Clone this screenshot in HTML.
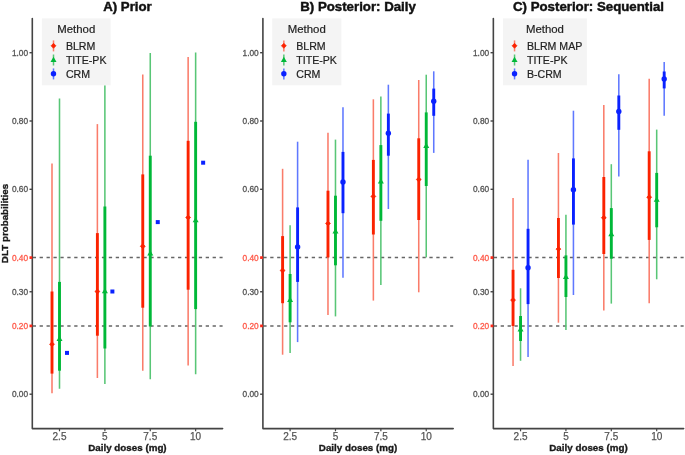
<!DOCTYPE html>
<html><head><meta charset="utf-8"><title>DLT probabilities</title>
<style>
html,body{margin:0;padding:0;background:#fff;}
body{width:685px;height:455px;overflow:hidden;}
svg{display:block;will-change:transform;font-family:"Liberation Sans",sans-serif;}
.ttl{font-size:13.25px;font-weight:bold;fill:#111;stroke:#111;stroke-width:0.45px;}
.yl{font-size:8.3px;stroke-width:0.3px;}
.xl{font-size:10px;fill:#555555;stroke:#555555;stroke-width:0.25px;}
.xt{font-size:9.8px;font-weight:bold;fill:#1a1a1a;stroke:#1a1a1a;stroke-width:0.35px;}
.lt{font-size:11.4px;fill:#222;stroke:#222;stroke-width:0.2px;}
.li{font-size:10.6px;fill:#222;stroke:#222;stroke-width:0.2px;}
</style></head>
<body>
<svg width="685" height="455" viewBox="0 0 685 455">
<rect width="685" height="455" fill="#fff"/>
<g>
<text x="127.45" y="11.1" text-anchor="middle" class="ttl">A) Prior</text>
<line x1="32.70" y1="257.60" x2="222.60" y2="257.60" stroke="#666" stroke-width="1.5" stroke-dasharray="3.3 3.62"/>
<line x1="32.70" y1="325.90" x2="222.60" y2="325.90" stroke="#666" stroke-width="1.5" stroke-dasharray="3.3 3.62"/>
<line x1="52.00" y1="163.60" x2="52.00" y2="393.20" stroke="#fa7c6a" stroke-width="1.55"/><line x1="52.00" y1="291.50" x2="52.00" y2="373.60" stroke="#fb2200" stroke-width="2.9"/><path d="M52.00 341.75L54.45 344.20L52.00 346.65L49.55 344.20Z" fill="#fb2200" stroke="#fb2200" stroke-width="0.7" stroke-linejoin="round"/>
<line x1="59.50" y1="98.40" x2="59.50" y2="388.80" stroke="#58c676" stroke-width="1.55"/><line x1="59.50" y1="281.90" x2="59.50" y2="370.70" stroke="#00b838" stroke-width="2.9"/><path d="M59.50 335.74L62.50 340.93L56.50 340.93Z" fill="#00b838"/>
<rect x="65.00" y="350.90" width="4.00" height="4.00" fill="#0a22ff"/>
<line x1="97.38" y1="124.10" x2="97.38" y2="378.00" stroke="#fa7c6a" stroke-width="1.55"/><line x1="97.38" y1="233.10" x2="97.38" y2="335.70" stroke="#fb2200" stroke-width="2.9"/><path d="M97.38 289.05L99.83 291.50L97.38 293.95L94.93 291.50Z" fill="#fb2200" stroke="#fb2200" stroke-width="0.7" stroke-linejoin="round"/>
<line x1="104.88" y1="85.30" x2="104.88" y2="383.90" stroke="#58c676" stroke-width="1.55"/><line x1="104.88" y1="206.50" x2="104.88" y2="348.50" stroke="#00b838" stroke-width="2.9"/><path d="M104.88 288.04L107.88 293.23L101.88 293.23Z" fill="#00b838"/>
<rect x="110.38" y="289.50" width="4.00" height="4.00" fill="#0a22ff"/>
<line x1="142.76" y1="74.50" x2="142.76" y2="370.70" stroke="#fa7c6a" stroke-width="1.55"/><line x1="142.76" y1="174.40" x2="142.76" y2="307.70" stroke="#fb2200" stroke-width="2.9"/><path d="M142.76 243.85L145.21 246.30L142.76 248.75L140.31 246.30Z" fill="#fb2200" stroke="#fb2200" stroke-width="0.7" stroke-linejoin="round"/>
<line x1="150.26" y1="53.10" x2="150.26" y2="379.20" stroke="#58c676" stroke-width="1.55"/><line x1="150.26" y1="155.70" x2="150.26" y2="326.50" stroke="#00b838" stroke-width="2.9"/><path d="M150.26 250.24L153.26 255.43L147.26 255.43Z" fill="#00b838"/>
<rect x="155.76" y="220.10" width="4.00" height="4.00" fill="#0a22ff"/>
<line x1="188.14" y1="57.00" x2="188.14" y2="365.50" stroke="#fa7c6a" stroke-width="1.55"/><line x1="188.14" y1="140.80" x2="188.14" y2="289.70" stroke="#fb2200" stroke-width="2.9"/><path d="M188.14 215.05L190.59 217.50L188.14 219.95L185.69 217.50Z" fill="#fb2200" stroke="#fb2200" stroke-width="0.7" stroke-linejoin="round"/>
<line x1="195.64" y1="52.60" x2="195.64" y2="374.20" stroke="#58c676" stroke-width="1.55"/><line x1="195.64" y1="121.80" x2="195.64" y2="309.10" stroke="#00b838" stroke-width="2.9"/><path d="M195.64 217.14L198.64 222.33L192.64 222.33Z" fill="#00b838"/>
<rect x="201.14" y="160.70" width="4.00" height="4.00" fill="#0a22ff"/>
<path d="M32.30 18.60V428.60H222.60" fill="none" stroke="#444444" stroke-width="1.6" stroke-linejoin="round" stroke-linecap="round"/>
<line x1="29.50" y1="394.20" x2="32.30" y2="394.20" stroke="#444444" stroke-width="1.4"/>
<text x="28.10" y="397.25" text-anchor="end" class="yl" fill="#555555" stroke="#555555">0.00</text>
<line x1="29.50" y1="325.90" x2="32.30" y2="325.90" stroke="#ff2a1a" stroke-width="2.7"/>
<text x="28.10" y="328.95" text-anchor="end" class="yl" fill="#ff5a4a" stroke="#ff5a4a">0.20</text>
<line x1="29.50" y1="291.75" x2="32.30" y2="291.75" stroke="#444444" stroke-width="1.4"/>
<text x="28.10" y="294.80" text-anchor="end" class="yl" fill="#555555" stroke="#555555">0.30</text>
<line x1="29.50" y1="257.60" x2="32.30" y2="257.60" stroke="#ff2a1a" stroke-width="2.7"/>
<text x="28.10" y="260.65" text-anchor="end" class="yl" fill="#ff5a4a" stroke="#ff5a4a">0.40</text>
<line x1="29.50" y1="189.30" x2="32.30" y2="189.30" stroke="#444444" stroke-width="1.4"/>
<text x="28.10" y="192.35" text-anchor="end" class="yl" fill="#555555" stroke="#555555">0.60</text>
<line x1="29.50" y1="121.00" x2="32.30" y2="121.00" stroke="#444444" stroke-width="1.4"/>
<text x="28.10" y="124.05" text-anchor="end" class="yl" fill="#555555" stroke="#555555">0.80</text>
<line x1="29.50" y1="52.70" x2="32.30" y2="52.70" stroke="#444444" stroke-width="1.4"/>
<text x="28.10" y="55.75" text-anchor="end" class="yl" fill="#555555" stroke="#555555">1.00</text>
<line x1="59.50" y1="428.60" x2="59.50" y2="431.30" stroke="#444444" stroke-width="1.2"/>
<text x="59.50" y="439.8" text-anchor="middle" class="xl">2.5</text>
<line x1="104.88" y1="428.60" x2="104.88" y2="431.30" stroke="#444444" stroke-width="1.2"/>
<text x="104.88" y="439.8" text-anchor="middle" class="xl">5</text>
<line x1="150.26" y1="428.60" x2="150.26" y2="431.30" stroke="#444444" stroke-width="1.2"/>
<text x="150.26" y="439.8" text-anchor="middle" class="xl">7.5</text>
<line x1="195.64" y1="428.60" x2="195.64" y2="431.30" stroke="#444444" stroke-width="1.2"/>
<text x="195.64" y="439.8" text-anchor="middle" class="xl">10</text>
<text x="127.45" y="451.2" text-anchor="middle" class="xt">Daily doses (mg)</text>
<rect x="41.90" y="18.4" width="68.70" height="66.9" fill="#f4f4f4"/>
<text x="76.25" y="32.5" text-anchor="middle" class="lt">Method</text>
<line x1="53.50" y1="40.40" x2="53.50" y2="51.40" stroke="#fa7c6a" stroke-width="1.5"/><path d="M53.50 43.35L55.95 45.80L53.50 48.25L51.05 45.80Z" fill="#fb2200" stroke="#fb2200" stroke-width="0.7" stroke-linejoin="round"/>
<line x1="53.50" y1="54.50" x2="53.50" y2="65.50" stroke="#58c676" stroke-width="1.5"/><path d="M53.50 56.74L56.50 61.93L50.50 61.93Z" fill="#00b838"/>
<line x1="53.50" y1="68.40" x2="53.50" y2="79.40" stroke="#5f78ff" stroke-width="1.5"/><circle cx="53.50" cy="73.80" r="2.70" fill="#0a22ff"/>
<text x="65.90" y="50.10" class="li">BLRM</text>
<text x="65.90" y="64.15" class="li">TITE-PK</text>
<text x="65.90" y="78.20" class="li">CRM</text>
<text x="358.05" y="11.1" text-anchor="middle" class="ttl">B) Posterior: Daily</text>
<line x1="263.30" y1="257.60" x2="453.20" y2="257.60" stroke="#666" stroke-width="1.5" stroke-dasharray="3.3 3.62"/>
<line x1="263.30" y1="325.90" x2="453.20" y2="325.90" stroke="#666" stroke-width="1.5" stroke-dasharray="3.3 3.62"/>
<line x1="282.60" y1="168.80" x2="282.60" y2="354.70" stroke="#fa7c6a" stroke-width="1.55"/><line x1="282.60" y1="236.10" x2="282.60" y2="303.20" stroke="#fb2200" stroke-width="2.9"/><path d="M282.60 268.05L285.05 270.50L282.60 272.95L280.15 270.50Z" fill="#fb2200" stroke="#fb2200" stroke-width="0.7" stroke-linejoin="round"/>
<line x1="290.10" y1="225.30" x2="290.10" y2="352.90" stroke="#58c676" stroke-width="1.55"/><line x1="290.10" y1="274.00" x2="290.10" y2="322.30" stroke="#00b838" stroke-width="2.9"/><path d="M290.10 296.84L293.10 302.03L287.10 302.03Z" fill="#00b838"/>
<line x1="297.60" y1="141.70" x2="297.60" y2="342.10" stroke="#5f78ff" stroke-width="1.55"/><line x1="297.60" y1="207.40" x2="297.60" y2="281.90" stroke="#0a22ff" stroke-width="2.9"/><circle cx="297.60" cy="246.90" r="2.70" fill="#0a22ff"/>
<line x1="327.98" y1="132.80" x2="327.98" y2="315.00" stroke="#fa7c6a" stroke-width="1.55"/><line x1="327.98" y1="190.70" x2="327.98" y2="257.40" stroke="#fb2200" stroke-width="2.9"/><path d="M327.98 220.95L330.43 223.40L327.98 225.85L325.53 223.40Z" fill="#fb2200" stroke="#fb2200" stroke-width="0.7" stroke-linejoin="round"/>
<line x1="335.48" y1="139.60" x2="335.48" y2="316.40" stroke="#58c676" stroke-width="1.55"/><line x1="335.48" y1="195.70" x2="335.48" y2="265.30" stroke="#00b838" stroke-width="2.9"/><path d="M335.48 228.24L338.48 233.43L332.48 233.43Z" fill="#00b838"/>
<line x1="342.98" y1="107.20" x2="342.98" y2="277.80" stroke="#5f78ff" stroke-width="1.55"/><line x1="342.98" y1="151.90" x2="342.98" y2="213.20" stroke="#0a22ff" stroke-width="2.9"/><circle cx="342.98" cy="182.00" r="2.70" fill="#0a22ff"/>
<line x1="373.36" y1="99.30" x2="373.36" y2="300.60" stroke="#fa7c6a" stroke-width="1.55"/><line x1="373.36" y1="159.90" x2="373.36" y2="234.50" stroke="#fb2200" stroke-width="2.9"/><path d="M373.36 193.95L375.81 196.40L373.36 198.85L370.91 196.40Z" fill="#fb2200" stroke="#fb2200" stroke-width="0.7" stroke-linejoin="round"/>
<line x1="380.86" y1="96.40" x2="380.86" y2="285.00" stroke="#58c676" stroke-width="1.55"/><line x1="380.86" y1="145.10" x2="380.86" y2="220.80" stroke="#00b838" stroke-width="2.9"/><path d="M380.86 178.24L383.86 183.43L377.86 183.43Z" fill="#00b838"/>
<line x1="388.36" y1="84.70" x2="388.36" y2="209.00" stroke="#5f78ff" stroke-width="1.55"/><line x1="388.36" y1="113.60" x2="388.36" y2="155.70" stroke="#0a22ff" stroke-width="2.9"/><circle cx="388.36" cy="133.30" r="2.70" fill="#0a22ff"/>
<line x1="418.74" y1="80.00" x2="418.74" y2="292.30" stroke="#fa7c6a" stroke-width="1.55"/><line x1="418.74" y1="138.30" x2="418.74" y2="220.00" stroke="#fb2200" stroke-width="2.9"/><path d="M418.74 177.05L421.19 179.50L418.74 181.95L416.29 179.50Z" fill="#fb2200" stroke="#fb2200" stroke-width="0.7" stroke-linejoin="round"/>
<line x1="426.24" y1="74.70" x2="426.24" y2="257.40" stroke="#58c676" stroke-width="1.55"/><line x1="426.24" y1="112.40" x2="426.24" y2="186.00" stroke="#00b838" stroke-width="2.9"/><path d="M426.24 142.74L429.24 147.93L423.24 147.93Z" fill="#00b838"/>
<line x1="433.74" y1="71.30" x2="433.74" y2="152.90" stroke="#5f78ff" stroke-width="1.55"/><line x1="433.74" y1="88.60" x2="433.74" y2="115.80" stroke="#0a22ff" stroke-width="2.9"/><circle cx="433.74" cy="101.20" r="2.70" fill="#0a22ff"/>
<path d="M262.90 18.60V428.60H453.20" fill="none" stroke="#444444" stroke-width="1.6" stroke-linejoin="round" stroke-linecap="round"/>
<line x1="260.10" y1="394.20" x2="262.90" y2="394.20" stroke="#444444" stroke-width="1.4"/>
<text x="258.70" y="397.25" text-anchor="end" class="yl" fill="#555555" stroke="#555555">0.00</text>
<line x1="260.10" y1="325.90" x2="262.90" y2="325.90" stroke="#ff2a1a" stroke-width="2.7"/>
<text x="258.70" y="328.95" text-anchor="end" class="yl" fill="#ff5a4a" stroke="#ff5a4a">0.20</text>
<line x1="260.10" y1="291.75" x2="262.90" y2="291.75" stroke="#444444" stroke-width="1.4"/>
<text x="258.70" y="294.80" text-anchor="end" class="yl" fill="#555555" stroke="#555555">0.30</text>
<line x1="260.10" y1="257.60" x2="262.90" y2="257.60" stroke="#ff2a1a" stroke-width="2.7"/>
<text x="258.70" y="260.65" text-anchor="end" class="yl" fill="#ff5a4a" stroke="#ff5a4a">0.40</text>
<line x1="260.10" y1="189.30" x2="262.90" y2="189.30" stroke="#444444" stroke-width="1.4"/>
<text x="258.70" y="192.35" text-anchor="end" class="yl" fill="#555555" stroke="#555555">0.60</text>
<line x1="260.10" y1="121.00" x2="262.90" y2="121.00" stroke="#444444" stroke-width="1.4"/>
<text x="258.70" y="124.05" text-anchor="end" class="yl" fill="#555555" stroke="#555555">0.80</text>
<line x1="260.10" y1="52.70" x2="262.90" y2="52.70" stroke="#444444" stroke-width="1.4"/>
<text x="258.70" y="55.75" text-anchor="end" class="yl" fill="#555555" stroke="#555555">1.00</text>
<line x1="290.10" y1="428.60" x2="290.10" y2="431.30" stroke="#444444" stroke-width="1.2"/>
<text x="290.10" y="439.8" text-anchor="middle" class="xl">2.5</text>
<line x1="335.48" y1="428.60" x2="335.48" y2="431.30" stroke="#444444" stroke-width="1.2"/>
<text x="335.48" y="439.8" text-anchor="middle" class="xl">5</text>
<line x1="380.86" y1="428.60" x2="380.86" y2="431.30" stroke="#444444" stroke-width="1.2"/>
<text x="380.86" y="439.8" text-anchor="middle" class="xl">7.5</text>
<line x1="426.24" y1="428.60" x2="426.24" y2="431.30" stroke="#444444" stroke-width="1.2"/>
<text x="426.24" y="439.8" text-anchor="middle" class="xl">10</text>
<text x="358.05" y="451.2" text-anchor="middle" class="xt">Daily doses (mg)</text>
<rect x="272.25" y="18.4" width="69.10" height="66.9" fill="#f4f4f4"/>
<text x="306.80" y="32.5" text-anchor="middle" class="lt">Method</text>
<line x1="283.85" y1="40.40" x2="283.85" y2="51.40" stroke="#fa7c6a" stroke-width="1.5"/><path d="M283.85 43.35L286.30 45.80L283.85 48.25L281.40 45.80Z" fill="#fb2200" stroke="#fb2200" stroke-width="0.7" stroke-linejoin="round"/>
<line x1="283.85" y1="54.50" x2="283.85" y2="65.50" stroke="#58c676" stroke-width="1.5"/><path d="M283.85 56.74L286.85 61.93L280.85 61.93Z" fill="#00b838"/>
<line x1="283.85" y1="68.40" x2="283.85" y2="79.40" stroke="#5f78ff" stroke-width="1.5"/><circle cx="283.85" cy="73.80" r="2.70" fill="#0a22ff"/>
<text x="296.25" y="50.10" class="li">BLRM</text>
<text x="296.25" y="64.15" class="li">TITE-PK</text>
<text x="296.25" y="78.20" class="li">CRM</text>
<text x="588.50" y="11.1" text-anchor="middle" class="ttl">C) Posterior: Sequential</text>
<line x1="493.75" y1="257.60" x2="683.65" y2="257.60" stroke="#666" stroke-width="1.5" stroke-dasharray="3.3 3.62"/>
<line x1="493.75" y1="325.90" x2="683.65" y2="325.90" stroke="#666" stroke-width="1.5" stroke-dasharray="3.3 3.62"/>
<line x1="513.05" y1="198.00" x2="513.05" y2="366.00" stroke="#fa7c6a" stroke-width="1.55"/><line x1="513.05" y1="269.80" x2="513.05" y2="326.00" stroke="#fb2200" stroke-width="2.9"/><path d="M513.05 297.65L515.50 300.10L513.05 302.55L510.60 300.10Z" fill="#fb2200" stroke="#fb2200" stroke-width="0.7" stroke-linejoin="round"/>
<line x1="520.55" y1="288.30" x2="520.55" y2="360.80" stroke="#58c676" stroke-width="1.55"/><line x1="520.55" y1="316.00" x2="520.55" y2="341.00" stroke="#00b838" stroke-width="2.9"/><path d="M520.55 326.24L523.55 331.43L517.55 331.43Z" fill="#00b838"/>
<line x1="528.05" y1="159.80" x2="528.05" y2="356.90" stroke="#5f78ff" stroke-width="1.55"/><line x1="528.05" y1="228.80" x2="528.05" y2="304.10" stroke="#0a22ff" stroke-width="2.9"/><circle cx="528.05" cy="267.70" r="2.70" fill="#0a22ff"/>
<line x1="558.43" y1="153.00" x2="558.43" y2="322.70" stroke="#fa7c6a" stroke-width="1.55"/><line x1="558.43" y1="218.00" x2="558.43" y2="278.00" stroke="#fb2200" stroke-width="2.9"/><path d="M558.43 246.65L560.88 249.10L558.43 251.55L555.98 249.10Z" fill="#fb2200" stroke="#fb2200" stroke-width="0.7" stroke-linejoin="round"/>
<line x1="565.93" y1="214.70" x2="565.93" y2="330.10" stroke="#58c676" stroke-width="1.55"/><line x1="565.93" y1="255.40" x2="565.93" y2="297.00" stroke="#00b838" stroke-width="2.9"/><path d="M565.93 273.84L568.93 279.03L562.93 279.03Z" fill="#00b838"/>
<line x1="573.43" y1="110.70" x2="573.43" y2="295.00" stroke="#5f78ff" stroke-width="1.55"/><line x1="573.43" y1="158.40" x2="573.43" y2="224.60" stroke="#0a22ff" stroke-width="2.9"/><circle cx="573.43" cy="189.80" r="2.70" fill="#0a22ff"/>
<line x1="603.81" y1="105.10" x2="603.81" y2="310.50" stroke="#fa7c6a" stroke-width="1.55"/><line x1="603.81" y1="177.00" x2="603.81" y2="254.00" stroke="#fb2200" stroke-width="2.9"/><path d="M603.81 215.25L606.26 217.70L603.81 220.15L601.36 217.70Z" fill="#fb2200" stroke="#fb2200" stroke-width="0.7" stroke-linejoin="round"/>
<line x1="611.31" y1="164.20" x2="611.31" y2="303.60" stroke="#58c676" stroke-width="1.55"/><line x1="611.31" y1="208.10" x2="611.31" y2="258.70" stroke="#00b838" stroke-width="2.9"/><path d="M611.31 231.04L614.31 236.23L608.31 236.23Z" fill="#00b838"/>
<line x1="618.81" y1="74.20" x2="618.81" y2="176.40" stroke="#5f78ff" stroke-width="1.55"/><line x1="618.81" y1="95.50" x2="618.81" y2="129.80" stroke="#0a22ff" stroke-width="2.9"/><circle cx="618.81" cy="111.40" r="2.70" fill="#0a22ff"/>
<line x1="649.19" y1="78.80" x2="649.19" y2="303.20" stroke="#fa7c6a" stroke-width="1.55"/><line x1="649.19" y1="151.30" x2="649.19" y2="239.90" stroke="#fb2200" stroke-width="2.9"/><path d="M649.19 194.75L651.64 197.20L649.19 199.65L646.74 197.20Z" fill="#fb2200" stroke="#fb2200" stroke-width="0.7" stroke-linejoin="round"/>
<line x1="656.69" y1="129.60" x2="656.69" y2="279.30" stroke="#58c676" stroke-width="1.55"/><line x1="656.69" y1="172.90" x2="656.69" y2="227.30" stroke="#00b838" stroke-width="2.9"/><path d="M656.69 196.64L659.69 201.83L653.69 201.83Z" fill="#00b838"/>
<line x1="664.19" y1="61.90" x2="664.19" y2="115.80" stroke="#5f78ff" stroke-width="1.55"/><line x1="664.19" y1="71.50" x2="664.19" y2="88.40" stroke="#0a22ff" stroke-width="2.9"/><circle cx="664.19" cy="79.00" r="2.70" fill="#0a22ff"/>
<path d="M493.35 18.60V428.60H683.65" fill="none" stroke="#444444" stroke-width="1.6" stroke-linejoin="round" stroke-linecap="round"/>
<line x1="490.55" y1="394.20" x2="493.35" y2="394.20" stroke="#444444" stroke-width="1.4"/>
<text x="489.15" y="397.25" text-anchor="end" class="yl" fill="#555555" stroke="#555555">0.00</text>
<line x1="490.55" y1="325.90" x2="493.35" y2="325.90" stroke="#ff2a1a" stroke-width="2.7"/>
<text x="489.15" y="328.95" text-anchor="end" class="yl" fill="#ff5a4a" stroke="#ff5a4a">0.20</text>
<line x1="490.55" y1="291.75" x2="493.35" y2="291.75" stroke="#444444" stroke-width="1.4"/>
<text x="489.15" y="294.80" text-anchor="end" class="yl" fill="#555555" stroke="#555555">0.30</text>
<line x1="490.55" y1="257.60" x2="493.35" y2="257.60" stroke="#ff2a1a" stroke-width="2.7"/>
<text x="489.15" y="260.65" text-anchor="end" class="yl" fill="#ff5a4a" stroke="#ff5a4a">0.40</text>
<line x1="490.55" y1="189.30" x2="493.35" y2="189.30" stroke="#444444" stroke-width="1.4"/>
<text x="489.15" y="192.35" text-anchor="end" class="yl" fill="#555555" stroke="#555555">0.60</text>
<line x1="490.55" y1="121.00" x2="493.35" y2="121.00" stroke="#444444" stroke-width="1.4"/>
<text x="489.15" y="124.05" text-anchor="end" class="yl" fill="#555555" stroke="#555555">0.80</text>
<line x1="490.55" y1="52.70" x2="493.35" y2="52.70" stroke="#444444" stroke-width="1.4"/>
<text x="489.15" y="55.75" text-anchor="end" class="yl" fill="#555555" stroke="#555555">1.00</text>
<line x1="520.55" y1="428.60" x2="520.55" y2="431.30" stroke="#444444" stroke-width="1.2"/>
<text x="520.55" y="439.8" text-anchor="middle" class="xl">2.5</text>
<line x1="565.93" y1="428.60" x2="565.93" y2="431.30" stroke="#444444" stroke-width="1.2"/>
<text x="565.93" y="439.8" text-anchor="middle" class="xl">5</text>
<line x1="611.31" y1="428.60" x2="611.31" y2="431.30" stroke="#444444" stroke-width="1.2"/>
<text x="611.31" y="439.8" text-anchor="middle" class="xl">7.5</text>
<line x1="656.69" y1="428.60" x2="656.69" y2="431.30" stroke="#444444" stroke-width="1.2"/>
<text x="656.69" y="439.8" text-anchor="middle" class="xl">10</text>
<text x="588.50" y="451.2" text-anchor="middle" class="xt">Daily doses (mg)</text>
<rect x="502.95" y="18.4" width="83.90" height="66.9" fill="#f4f4f4"/>
<text x="544.90" y="32.5" text-anchor="middle" class="lt">Method</text>
<line x1="514.55" y1="40.40" x2="514.55" y2="51.40" stroke="#fa7c6a" stroke-width="1.5"/><path d="M514.55 43.35L517.00 45.80L514.55 48.25L512.10 45.80Z" fill="#fb2200" stroke="#fb2200" stroke-width="0.7" stroke-linejoin="round"/>
<line x1="514.55" y1="54.50" x2="514.55" y2="65.50" stroke="#58c676" stroke-width="1.5"/><path d="M514.55 56.74L517.55 61.93L511.55 61.93Z" fill="#00b838"/>
<line x1="514.55" y1="68.40" x2="514.55" y2="79.40" stroke="#5f78ff" stroke-width="1.5"/><circle cx="514.55" cy="73.80" r="2.70" fill="#0a22ff"/>
<text x="526.95" y="50.10" class="li">BLRM MAP</text>
<text x="526.95" y="64.15" class="li">TITE-PK</text>
<text x="526.95" y="78.20" class="li">B-CRM</text>
<text transform="translate(7.9 223.5) rotate(-90)" text-anchor="middle" class="xt">DLT probabilities</text>
</g>
</svg>
</body></html>
